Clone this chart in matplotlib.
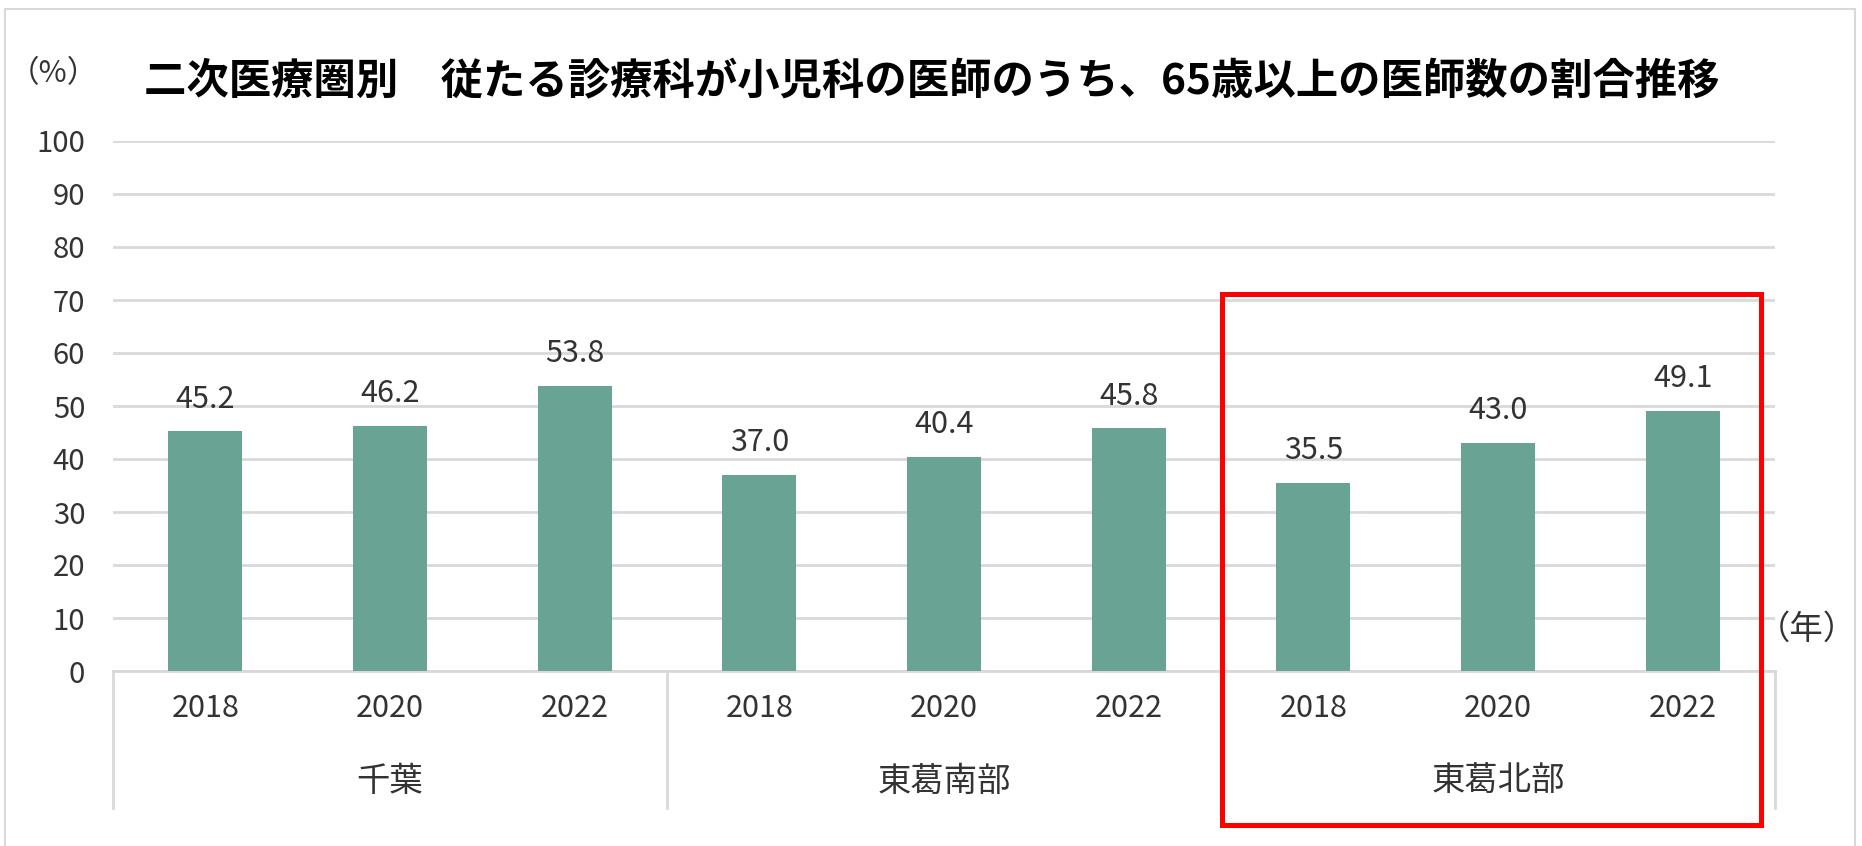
import matplotlib
matplotlib.use("Agg")
import matplotlib.pyplot as plt
import matplotlib.patches as patches
import matplotlib.transforms as mtransforms
import numpy as np

plt.rcParams["font.family"] = ["Noto Sans CJK JP", "DejaVu Sans"]

# data
regions = ["千葉", "東葛南部", "東葛北部"]
years = ["2018", "2020", "2022"]
chiba = [45.2, 46.2, 53.8]
tokatsu_south = [37.0, 40.4, 45.8]
tokatsu_north = [35.5, 43.0, 49.1]
yticks = [0, 10, 20, 30, 40, 50, 60, 70, 80, 90, 100]

TITLE = "二次医療圏別\u3000従たる診療科が小児科の医師のうち、65歳以上の医師数の割合推移"
BAR = "#69a393"
TXT = "#333333"
GRID = "#d9d9d9"

W, H = 1862, 846
fig = plt.figure(figsize=(W / 100, H / 100), dpi=100)
# plot area in pixels: left 113, right 1775, y=0 at 671, y=100 at 141
ax = fig.add_axes([113 / W, (H - 671) / H, (1775 - 113) / W, (671 - 141) / H])

values = chiba + tokatsu_south + tokatsu_north
x = np.arange(len(values))
ax.bar(x, values, width=0.4, color=BAR, zorder=3)
for xi, v in zip(x, values):
    ax.annotate(f"{v:.1f}", (xi, v), xytext=(0, 12), textcoords="offset points",
                ha="center", va="bottom", fontsize=22, color=TXT)

ax.set_xlim(-0.5, len(values) - 0.5)
ax.set_ylim(0, 100)
ax.set_yticks(yticks)
ax.tick_params(axis="y", length=0, pad=20, labelsize=21, labelcolor=TXT)
ax.yaxis.grid(True, color=GRID, lw=2, zorder=0)
for s in ("top", "right", "left"):
    ax.spines[s].set_visible(False)
ax.spines["bottom"].set_color(GRID)
ax.spines["bottom"].set_linewidth(2)

ax.set_xticks(x)
ax.set_xticklabels(years * len(regions))
ax.tick_params(axis="x", length=0, pad=16, labelsize=22, labelcolor=TXT)

# group separators and region labels under the axis
trans = mtransforms.blended_transform_factory(ax.transData, ax.transAxes)
drop = (808 - 671) / (671 - 141)
for b in range(len(regions) + 1):
    xb = b * 3 - 0.5
    ax.plot([xb, xb], [0, -drop], transform=trans, color=GRID, lw=2,
            clip_on=False)
for i, r in enumerate(regions):
    ax.text(i * 3 + 1, -(781 - 671) / (671 - 141), r, transform=trans,
            ha="center", va="center", fontsize=24, color=TXT)

fig.text(53 / W, 1 - 74 / H, "（%）", ha="center", va="center",
         fontsize=22, color=TXT)
fig.text(1807 / W, 1 - 629 / H, "（年）", ha="center", va="center",
         fontsize=24, color=TXT)
fig.text(932 / W, 1 - 81 / H, TITLE, ha="center", va="center",
         fontsize=30.5, weight="bold", color="black")

# highlight box around 東葛北部
fig.patches.append(patches.Rectangle((1222 / W, 1 - 825 / H), (1761 - 1222) / W,
                                     (825 - 294) / H, transform=fig.transFigure,
                                     fill=False, ec="#ff0000", lw=3.6))
# outer chart frame
fig.patches.append(patches.Rectangle((5 / W, -0.05), (1855 - 5) / W, 1 - 9 / H + 0.05,
                                     transform=fig.transFigure, fill=False,
                                     ec=GRID, lw=1.5))

fig.savefig("out.png", dpi=100)
